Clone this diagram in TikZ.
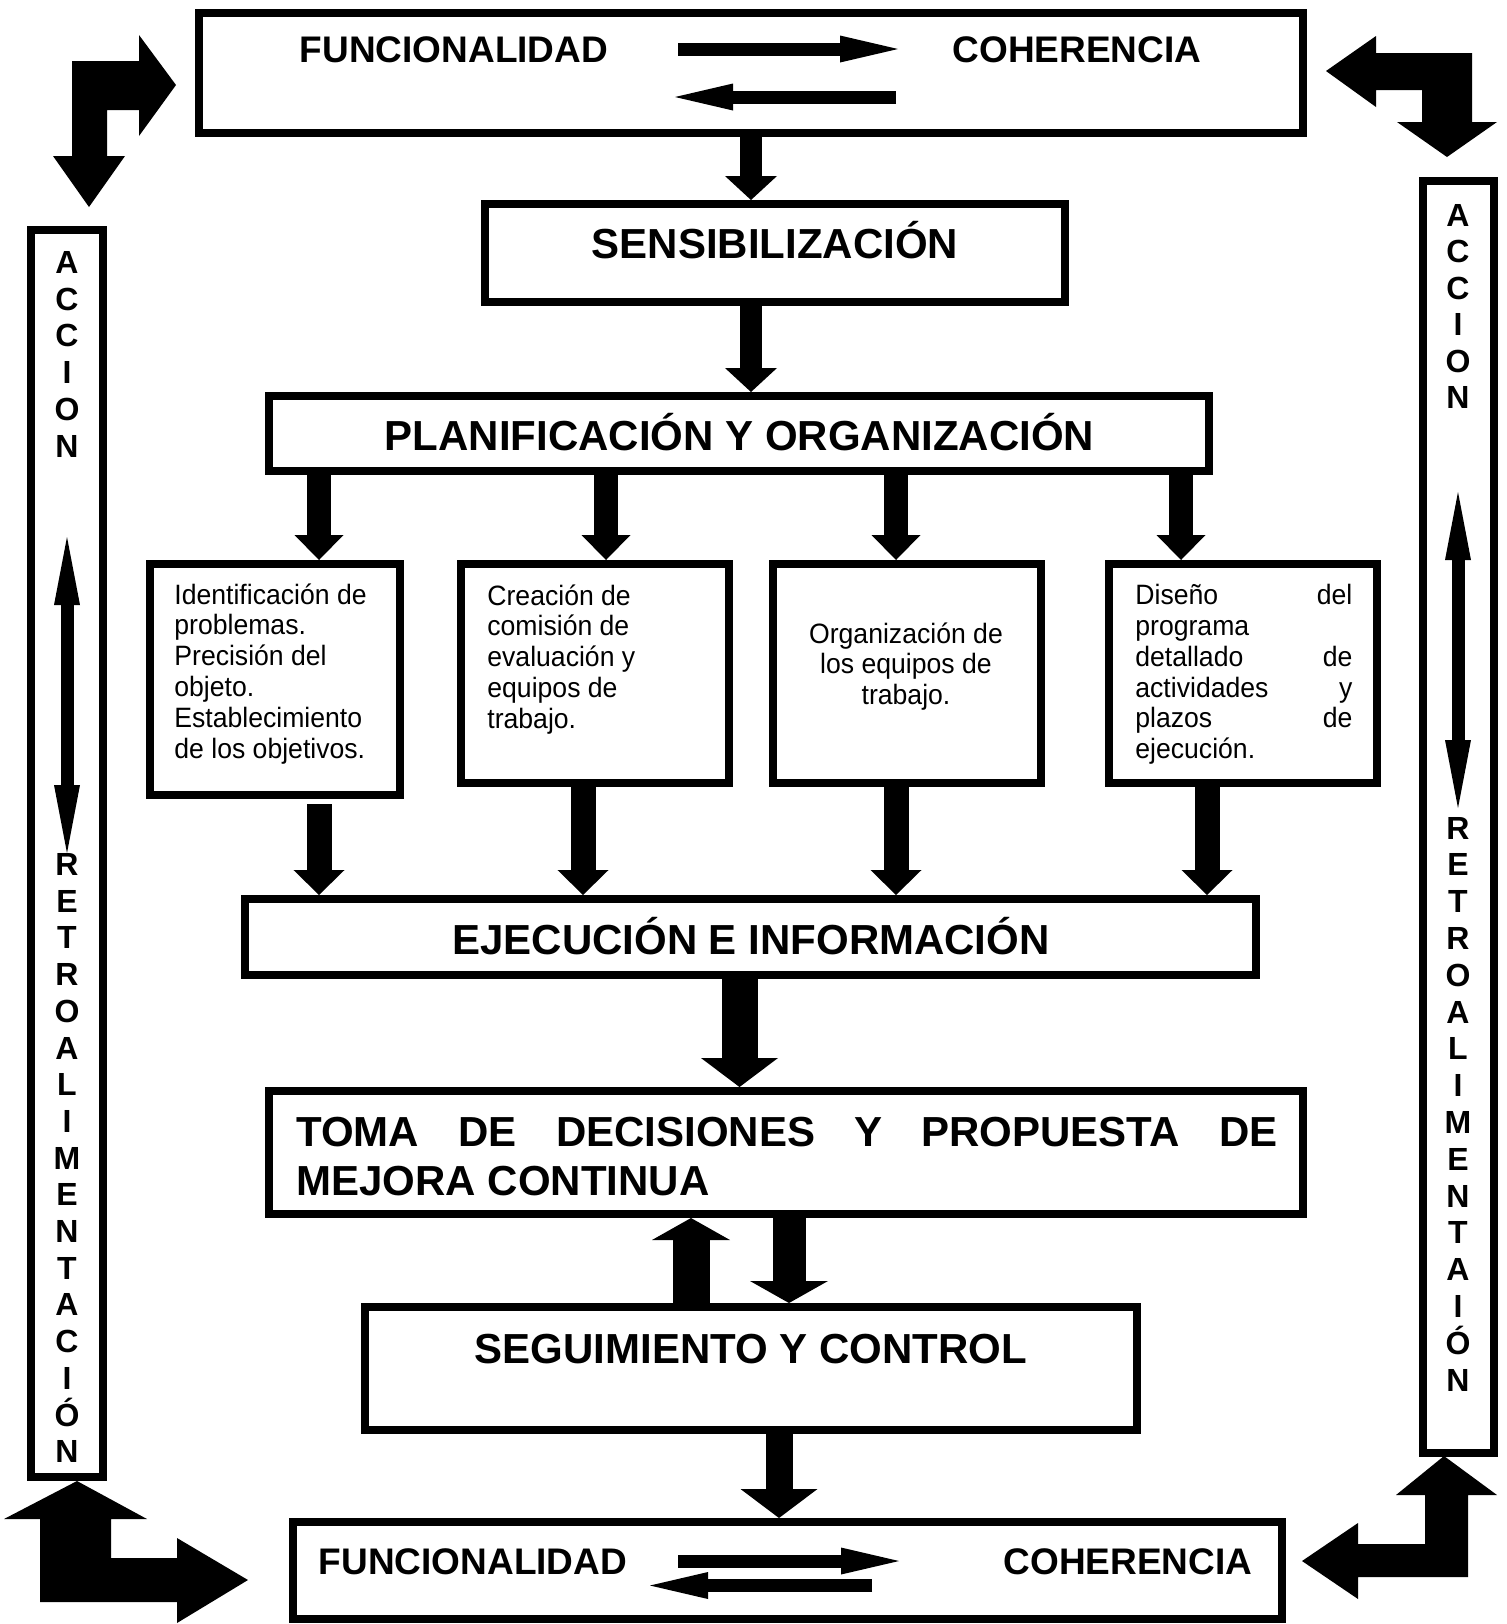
\documentclass[tikz,border=0pt]{standalone}
\usepackage{fontspec}
\setmainfont{Liberation Sans}
\newfontfamily\notefont[FakeStretch=0.95]{Liberation Sans}
\usetikzlibrary{arrows.meta}
\usetikzlibrary{calc}

\begin{document}
\begin{tikzpicture}[x=0.5pt, y=-0.5pt,
    box/.style={draw=black, line width=4pt, inner sep=0pt},
    head/.style={font=\bfseries\fontsize{21pt}{24.5pt}\selectfont, inner sep=0pt, text height=15pt, text depth=0pt},
    pair/.style={font=\bfseries\fontsize{18.5pt}{22pt}\selectfont, inner sep=0pt, text height=13.25pt, text depth=0pt},
    letter/.style={font=\bfseries\fontsize{16pt}{18pt}\selectfont, inner sep=0pt, text height=11.5pt, text depth=0pt},
    note/.style={font=\notefont\fontsize{14pt}{15.4pt}\selectfont, inner sep=0pt, align=left, anchor=north west},
    blk/.style n args={3}{line width=#1, -{Triangle[width=#2, length=#3, line width=0pt]}},
    flow/.style={line width=6.5pt, -{Triangle[width=13.5pt, length=29pt, line width=0pt]}},
    dbl/.style={line width=6.5pt, {Triangle[width=13pt, length=34pt, line width=0pt]}-{Triangle[width=13pt, length=34pt, line width=0pt]}}]
\useasboundingbox (0,0) rectangle (1507,1624);

% boxes
\node[box, minimum width=552pt, minimum height=60pt] (top) at (751,73) {};
\node[box, minimum width=290pt, minimum height=49pt] (sens) at (775,253) {};
\node[box, minimum width=470pt, minimum height=37.5pt] (plan) at (739,433.5) {};
\node[box, minimum width=125pt, minimum height=115.5pt] (b1) at (275,679.5) {};
\node[box, minimum width=134pt, minimum height=109.5pt] (b2) at (595,673.5) {};
\node[box, minimum width=134pt, minimum height=109.5pt] (b3) at (907,673.5) {};
\node[box, minimum width=134pt, minimum height=109.5pt] (b4) at (1243,673.5) {};
\node[box, minimum width=505.5pt, minimum height=38pt] (ejec) at (750.5,937) {};
\node[box, minimum width=517pt, minimum height=61.5pt] (toma) at (786,1152.5) {};
\node[box, minimum width=386pt, minimum height=61.5pt] (seg) at (751,1368.5) {};
\node[box, minimum width=494.5pt, minimum height=48.5pt] (bot) at (787.5,1570.5) {};
\node[box, minimum width=36pt, minimum height=623.5pt] (accL) at (67,853.5) {};
\node[box, minimum width=35.5pt, minimum height=636pt] (accR) at (1458.5,817) {};

% headings
\node[pair] (f1) at (454,49) {FUNCIONALIDAD};
\node[pair] (c1) at (1077,49) {COHERENCIA};
\node[head] at (775,243) {SENSIBILIZACIÓN};
\node[head] at (739.5,435) {PLANIFICACIÓN Y ORGANIZACIÓN};
\node[head] at (751,939) {EJECUCIÓN E INFORMACIÓN};
\node[font=\bfseries\fontsize{21pt}{24.5pt}\selectfont, inner sep=0pt, align=left, anchor=north west] at (296,1117)
    {\makebox[490.5pt][s]{TOMA DE DECISIONES Y PROPUESTA DE}\\MEJORA CONTINUA};
\node[head] at (751,1348.5) {SEGUIMIENTO Y CONTROL};
\node[pair] (f2) at (473,1561) {FUNCIONALIDAD};
\node[pair] (c2) at (1128,1561) {COHERENCIA};

% notes
\node[note] at (174,583) {Identificación de\\problemas.\\Precisión del\\objeto.\\Establecimiento\\de los objetivos.};
\node[note] at (487,584) {Creación de\\comisión de\\evaluación y\\equipos de\\trabajo.};
\node[note, anchor=north, align=center] at (906,622) {Organización de\\los equipos de\\trabajo.};
\node[note] at (1135,584) {\makebox[108.5pt][s]{Diseño del}\\programa\\\makebox[108.5pt][s]{detallado de}\\\makebox[108.5pt][s]{actividades y}\\\makebox[108.5pt][s]{plazos de}\\ejecución.};

% side letters
\foreach \l [count=\i from 0] in {A,C,C,I,O,N}
    \node[letter] at (67, 262+36.7*\i) {\l};
\foreach \l [count=\i from 0] in {R,E,T,R,O,A,L,I,M,E,N,T,A,C,I,Ó,N}
    \node[letter] at (67, 864+36.7*\i) {\l};
\foreach \l [count=\i from 0] in {A,C,C,I,O,N}
    \node[letter] at (1458, 214.5+36.5*\i) {\l};
\foreach \l [count=\i from 0] in {R,E,T,R,O,A,L,I,M,E,N,T,A,I,Ó,N}
    \node[letter] at (1458, 827.5+36.8*\i) {\l};

% main flow
\draw[blk={11pt}{26pt}{12pt}] (top.south) -- (top.south |- sens.north);
\draw[blk={11pt}{26pt}{12pt}] (top.south |- sens.south) -- (top.south |- plan.north);
\foreach \xa/\bx in {319/b1, 606/b2, 896/b3, 1181/b4}
    \draw[blk={12pt}{24.5pt}{12.5pt}] (\xa,0 |- plan.south) -- (\xa,0 |- \bx.north);
\coordinate (g1) at (319,804);
\draw[blk={12.5pt}{25.5pt}{12.5pt}] (g1) -- (g1 |- ejec.north);
\foreach \xa/\bx in {583/b2, 896/b3, 1207/b4}
    \draw[blk={12.5pt}{25.5pt}{12.5pt}] (\xa,0 |- \bx.south) -- (\xa,0 |- ejec.north);
\draw[blk={18pt}{38.5pt}{14.5pt}] (739.5,0 |- ejec.south) -- (739.5,0 |- toma.north);
\draw[blk={18.5pt}{39pt}{11pt}] (691,0 |- seg.north) -- (691,0 |- toma.south);
\draw[blk={16.5pt}{39pt}{11pt}] (789,0 |- toma.south) -- (789,0 |- seg.north);
\draw[blk={13.5pt}{38.5pt}{14.5pt}] (779,0 |- seg.south) -- (779,0 |- bot.north);

% arrows between the pairs
\coordinate (a1) at (678,49);
\coordinate (a2) at (898,49);
\coordinate (a3) at (896,97);
\coordinate (a4) at (675,97);
\draw[flow] (a1) -- (a2);
\draw[flow] (a3) -- (a4);
\coordinate (d1) at (678,1561);
\coordinate (d2) at (899,1561);
\coordinate (d3) at (872,1585.5);
\coordinate (d4) at (650,1585.5);
\draw[flow] (d1) -- (d2);
\draw[flow] (d3) -- (d4);

% arrows inside the side boxes
\coordinate (l1) at (67,537);
\coordinate (l2) at (67,853);
\coordinate (r1) at (1458,492);
\coordinate (r2) at (1458,808);
\draw[dbl] (l1) -- (l2);
\draw[dbl] (r1) -- (r2);

% corner arrows
\fill (72,61) -- (139,61) -- (139,35) -- (176,85) -- (139,136) -- (139,110) -- (107,110)
    -- (107,156) -- (125,156) -- (89,207) -- (53,156) -- (72,156) -- cycle;
\fill (1326,71) -- (1376,36) -- (1376,53) -- (1472,53) -- (1472,122) -- (1497,122)
    -- (1447,157) -- (1397,122) -- (1422,122) -- (1422,90) -- (1376,90) -- (1376,107) -- cycle;
\fill (77,1481) -- (147,1519) -- (111,1519) -- (111,1558) -- (177,1558) -- (177,1538)
    -- (248,1580) -- (177,1623) -- (177,1602) -- (40,1602) -- (40,1519) -- (4,1519) -- cycle;
\fill (1444,1456) -- (1497,1495) -- (1468,1495) -- (1468,1577) -- (1358,1577) -- (1358,1599)
    -- (1302,1561) -- (1358,1523) -- (1358,1544) -- (1425,1544) -- (1425,1495) -- (1396,1495) -- cycle;
\end{tikzpicture}
\end{document}
